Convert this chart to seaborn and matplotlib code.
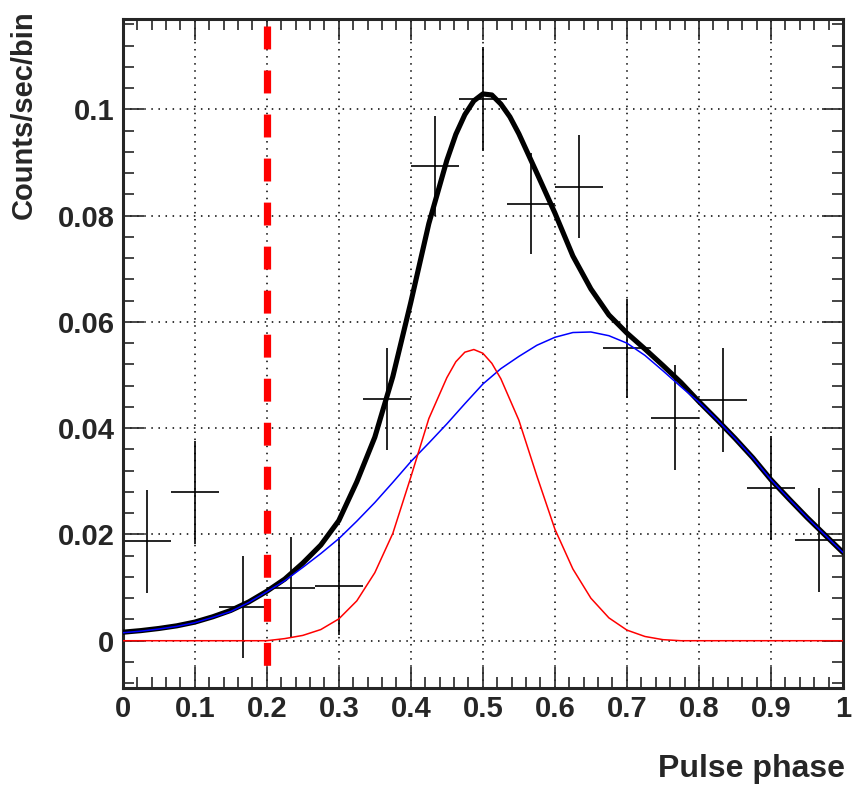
"""
Pulse profile with two-component fit (gaussian + broad component).
"""

import numpy as np
import matplotlib.pyplot as plt
import seaborn as sns
from matplotlib.ticker import MultipleLocator, FuncFormatter

# ---------------------------------------------------------------------------
# data
# ---------------------------------------------------------------------------
bin_centers = [0.0333, 0.1, 0.1667, 0.2333, 0.3, 0.3667, 0.4333, 0.5,
               0.5667, 0.6333, 0.7, 0.7667, 0.8333, 0.9, 0.9667]
counts = [0.0187, 0.0279, 0.0064, 0.0100, 0.0103, 0.0454, 0.0893, 0.1019,
          0.0822, 0.0854, 0.0550, 0.0420, 0.0453, 0.0287, 0.0190]
count_err = [0.0097, 0.0097, 0.0096, 0.0095, 0.0093, 0.0096, 0.0094, 0.0098,
             0.0095, 0.0097, 0.0094, 0.0098, 0.0097, 0.0098, 0.0098]
bin_half_width = 1 / 30

# sampled fit curves (phase, value)
total_phase = [0.0, 0.025, 0.05, 0.075, 0.1, 0.125, 0.15, 0.175,
               0.2, 0.225, 0.25, 0.275, 0.3, 0.325, 0.35, 0.375,
               0.4, 0.425, 0.45, 0.4625, 0.475, 0.4875, 0.5, 0.5125,
               0.525, 0.5375, 0.55, 0.575, 0.6, 0.625, 0.65, 0.675,
               0.7, 0.725, 0.75, 0.775, 0.8, 0.825, 0.85, 0.875,
               0.9, 0.925, 0.95, 0.975, 1.0]
total_fit = [0.0016, 0.0019, 0.0023, 0.0028, 0.0035, 0.0045, 0.0057, 0.0073,
             0.0093, 0.0116, 0.0146, 0.0180, 0.0226, 0.0299, 0.0383, 0.0497,
             0.0637, 0.0785, 0.0904, 0.0953, 0.0990, 0.1016, 0.1029, 0.1027,
             0.1010, 0.0986, 0.0954, 0.0880, 0.0805, 0.0724, 0.0662, 0.0613,
             0.0579, 0.0549, 0.0518, 0.0486, 0.0450, 0.0416, 0.0381, 0.0344,
             0.0303, 0.0267, 0.0232, 0.0199, 0.0166]

broad_phase = [0.0, 0.025, 0.05, 0.075, 0.1, 0.125, 0.15, 0.175,
               0.2, 0.225, 0.25, 0.275, 0.3, 0.325, 0.35, 0.375,
               0.4, 0.425, 0.45, 0.475, 0.5, 0.525, 0.55, 0.575,
               0.6, 0.625, 0.65, 0.675, 0.7, 0.725, 0.75, 0.775,
               0.8, 0.825, 0.85, 0.875, 0.9, 0.925, 0.95, 0.975, 1.0]
broad_comp = [0.0015, 0.0018, 0.0022, 0.0027, 0.0034, 0.0044, 0.0055, 0.0072,
              0.0092, 0.0113, 0.0138, 0.0164, 0.0192, 0.0225, 0.0260, 0.0298,
              0.0337, 0.0372, 0.0408, 0.0446, 0.0483, 0.0512, 0.0535, 0.0556,
              0.0571, 0.0580, 0.0581, 0.0574, 0.0560, 0.0537, 0.0508, 0.0478,
              0.0449, 0.0416, 0.0381, 0.0344, 0.0303, 0.0267, 0.0232, 0.0199,
              0.0166]

gauss_phase = [0.0, 0.2, 0.225, 0.25, 0.275, 0.3, 0.325, 0.35,
               0.375, 0.4, 0.425, 0.45, 0.4625, 0.475, 0.4875, 0.5,
               0.5125, 0.525, 0.55, 0.575, 0.6, 0.625, 0.65, 0.675,
               0.7, 0.725, 0.75, 0.775, 1.0]
gauss_comp = [0, 0, 0.0004, 0.0010, 0.0021, 0.0041, 0.0075, 0.0128,
              0.0202, 0.0308, 0.0418, 0.0495, 0.0525, 0.0543, 0.0548, 0.0541,
              0.0522, 0.0493, 0.0415, 0.0310, 0.0210, 0.0135, 0.0080, 0.0043,
              0.0020, 0.0008, 0.0002, 0, 0]

cut_phase = 0.2

# ---------------------------------------------------------------------------
# style
# ---------------------------------------------------------------------------
sns.set_style("ticks")
plt.rcParams['font.family'] = ['Liberation Sans', 'DejaVu Sans']
plt.rcParams['font.weight'] = 'bold'
plt.rcParams['lines.scale_dashes'] = False
plt.rcParams['lines.solid_joinstyle'] = 'round'

fig = plt.figure(figsize=(8.54, 7.92), dpi=100)
ax = fig.add_axes([0.1437, 0.1317, 0.8434, 0.8443])

# data points with error bars
ax.errorbar(bin_centers, counts, yerr=count_err, xerr=bin_half_width,
            fmt='none', ecolor='black', elinewidth=1.2, capsize=0, zorder=2)

# fit curves
sns.lineplot(x=total_phase, y=total_fit, ax=ax, color='black',
             linewidth=3.7, zorder=3)
sns.lineplot(x=broad_phase, y=broad_comp, ax=ax, color='#0000ff',
             linewidth=1.1, zorder=4)
sns.lineplot(x=gauss_phase, y=gauss_comp, ax=ax, color='#ff0000',
             linewidth=1.1, zorder=4)

# phase cut marker, dashes start from the top
ax.plot([cut_phase, cut_phase], [0.9895, 0.007],
        transform=ax.get_xaxis_transform(), color='#ff0000',
        linewidth=5.2, linestyle=(0, (16.5, 15.2)), zorder=6)

ax.set_xlim(0, 1)
ax.set_ylim(-0.00884, 0.1170)

ax.xaxis.set_major_locator(MultipleLocator(0.1))
ax.xaxis.set_minor_locator(MultipleLocator(0.02))
ax.yaxis.set_major_locator(MultipleLocator(0.02))
ax.yaxis.set_minor_locator(MultipleLocator(0.004))
fmt = FuncFormatter(lambda v, p: f"{round(v, 4) + 0:g}")
ax.xaxis.set_major_formatter(fmt)
ax.yaxis.set_major_formatter(fmt)

ax.grid(True, which='major', color='black', linestyle=(0, (1.1, 4.0)),
        linewidth=1.1)
ax.tick_params(which='major', direction='in', length=15, width=1.2,
               top=True, right=True, labelsize=21, pad=5)
ax.tick_params(which='minor', direction='in', length=8, width=1.2,
               top=True, right=True)
ax.tick_params(axis='y', which='major', pad=6)
for lab in ax.get_xticklabels() + ax.get_yticklabels():
    lab.set_fontweight('bold')
for s in ax.spines.values():
    s.set_linewidth(2.2)
    s.set_visible(True)

ax.set_xlabel('')
ax.set_ylabel('')
fig.text(0.028, 1 - 10 / 792, 'Counts/sec/bin', rotation=90, ha='center',
         va='top', fontsize=21, fontweight='bold')
fig.text(845 / 854, 1 - 777 / 792, 'Pulse phase', ha='right', va='baseline',
         fontsize=23, fontweight='bold')

fig.savefig('out.png', dpi=100)
plt.close(fig)
